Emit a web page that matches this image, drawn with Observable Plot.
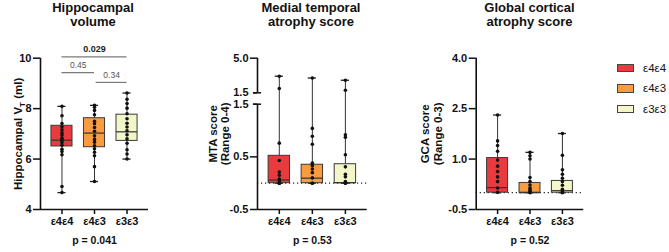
<!DOCTYPE html>
<html><head><meta charset="utf-8">
<script src="https://cdn.jsdelivr.net/npm/d3@7"></script>
<script src="https://cdn.jsdelivr.net/npm/@observablehq/plot@0.6"></script>
<style>
body{margin:0;background:#fff;}
#chart{position:relative;width:669px;height:252px;font-family:"Liberation Sans",Arial,sans-serif;color:#111;overflow:hidden;}
.title{position:absolute;top:1px;font-weight:bold;font-size:13px;line-height:14px;text-align:center;width:170px;transform:translateX(-50%);}
.legend{position:absolute;left:617px;top:57.5px;}
.item{display:flex;align-items:center;height:20.6px;font-size:11.5px;}
.sw{width:15px;height:6.5px;border:1px solid #444;margin-right:9px;}
</style></head><body><div id="chart"></div>
<script>
// ---- categories / styling ----
const genotypes = ["ε4ε4", "ε4ε3", "ε3ε3"];
const fills = ["#e93a3e", "#f89c3f", "#f3f6c8"];
const panelTitles = ["Hippocampal\nvolume", "Medial temporal\natrophy score", "Global cortical\natrophy score"];
const yLabels = ["Hippocampal VT (ml)", "MTA score\n(Range 0-4)", "GCA score\n(Range 0-3)"];
const pValues = ["p = 0.041", "p = 0.53", "p = 0.52"];

// ---- panel 1: hippocampal volume (ml) ----
const hippoE4E4 = [8.09, 7.72, 7.41, 7.28, 7.16, 7.04, 6.95, 6.83, 6.75, 6.66, 6.55, 6.39, 6.30, 6.17, 4.91, 4.67];
const hippoE4E3 = [8.13, 8.05, 7.93, 7.76, 7.50, 7.40, 7.25, 7.10, 6.92, 6.78, 6.67, 6.53, 6.41, 6.27, 6.13, 5.70, 5.11];
const hippoE3E3 = [8.62, 8.37, 8.20, 8.02, 7.80, 7.60, 7.42, 7.27, 7.12, 6.96, 6.80, 6.63, 6.37, 6.20, 6.00];
const hippoBoxes = [
  {min: 4.67, q1: 6.50, median: 6.75, q3: 7.32, max: 8.09},
  {min: 5.11, q1: 6.47, median: 7.03, q3: 7.62, max: 8.13},
  {min: 6.00, q1: 6.72, median: 7.08, q3: 7.76, max: 8.62}
];
const hippoTicks = [4, 6, 8, 10];
const hippoComparisons = [
  {from: 1, to: 3, level: 10.05, label: "0.029", bold: true},
  {from: 1, to: 2, level: 9.43, label: "0.45", bold: false},
  {from: 2.05, to: 3, level: 9.04, label: "0.34", bold: false}
];

// ---- panel 2: MTA score (broken axis: -0.5..1.5 | 1.5..5.0) ----
const mtaE4E4 = [3.18, 1.93, 0.76, 0.43, 0.21, 0.15, 0.08, 0.04, 0, 0, 0];
const mtaE4E3 = [3.00, 1.04, 0.89, 0.74, 0.38, 0.33, 0.27, 0.20, 0.10, 0, 0];
const mtaE3E3 = [2.77, 1.76, 0.92, 0.87, 0.54, 0.31, 0.17, 0.12, 0.03, 0, 0];
const mtaBoxes = [
  {min: 0, q1: 0, median: 0.06, q3: 0.52, max: 3.18},
  {min: 0, q1: 0, median: 0.095, q3: 0.35, max: 3.00},
  {min: 0, q1: 0, median: 0.01, q3: 0.36, max: 2.77}
];
const mtaLowerTicks = [-0.5, 0.5, 1.5];
const mtaUpperTicks = [1.5, 5.0];

// ---- panel 3: GCA score ----
const gcaE4E4 = [2.31, 1.54, 1.40, 1.23, 0.97, 0.79, 0.63, 0.47, 0.33, 0.14, 0.01];
const gcaE4E3 = [1.20, 1.10, 1.00, 0.45, 0.33, 0.23, 0.14, 0.09, 0.04, 0];
const gcaE3E3 = [1.76, 1.11, 0.68, 0.55, 0.43, 0.33, 0.22, 0.10, 0.03, 0];
const gcaBoxes = [
  {min: 0, q1: 0, median: 0.15, q3: 1.03, max: 2.31},
  {min: 0, q1: 0, median: 0.0, q3: 0.29, max: 1.20},
  {min: 0, q1: 0, median: 0.06, q3: 0.35, max: 1.76}
];
const gcaTicks = [-0.5, 1.0, 2.5, 4.0];

// ---- drawing ----
const X0 = 0.34, X1 = 3.66, HALF = 0.324, CAP = 0.125;
const FONT = '"Liberation Sans", Arial, sans-serif';
const chart = document.getElementById("chart");
const ident = v => v;

// broken-axis transform for MTA: lower part linear, small gap, compressed upper part
const BREAK = 1.5, GAP = 0.2165, K = 0.1878;
const upperPos = v => BREAK + GAP + (v - BREAK) * K;
const mtaPos = v => (v <= BREAK ? v : upperPos(v));
const mtaLabel = d => (d > BREAK + GAP / 2 ? BREAK + (d - BREAK - GAP) / K : d).toFixed(1);

function makePanel(cfg) {
  const P = cfg.pos || ident;
  const rows = cfg.groups.flatMap((vals, i) => vals.map(v => ({x: i + 1, v: P(v)})));
  const boxes = cfg.boxes.map((b, i) => ({x: i + 1, min: P(b.min), q1: P(b.q1), median: P(b.median), q3: P(b.q3), max: P(b.max), fill: fills[i]}));
  const marks = [];
  if (cfg.zero) marks.push(Plot.ruleY([P(0)], {x1: X0, x2: X1, stroke: "#222", strokeWidth: 1.2, strokeDasharray: "1.2,2.8"}));
  marks.push(
    Plot.ruleX(boxes, {x: "x", y1: "min", y2: "max", stroke: "#333", strokeWidth: 1}),
    Plot.ruleY(boxes, {y: "max", x1: d => d.x - CAP, x2: d => d.x + CAP, stroke: "#222", strokeWidth: 1.3}),
    Plot.ruleY(boxes, {y: "min", x1: d => d.x - CAP, x2: d => d.x + CAP, stroke: "#222", strokeWidth: 1.3}),
    Plot.rect(boxes, {x1: d => d.x - HALF, x2: d => d.x + HALF, y1: "q1", y2: "q3", fill: "fill", stroke: "#3a3a3a", strokeWidth: 1}),
    Plot.ruleY(boxes, {y: "median", x1: d => d.x - HALF, x2: d => d.x + HALF, stroke: "#333", strokeWidth: 1.2}),
    Plot.dot(rows, {x: "x", y: "v", r: 1.8, fill: "#111", stroke: null}),
    Plot.ruleX(cfg.axisSegs, {x: X0, y1: d => d[0], y2: d => d[1], stroke: "#111", strokeWidth: 1.6}),
    Plot.ruleY([cfg.yDomain[0]], {x1: X0, x2: X1, stroke: "#111", strokeWidth: 1.6}),
    Plot.axisX({ticks: [1, 2, 3], tickFormat: d => genotypes[d - 1], tickSize: 5, tickPadding: 3, fontSize: 11, strokeWidth: 1.5, stroke: "#111", label: null}),
    Plot.text([cfg.ylabel], {text: d => d, frameAnchor: "left", textAnchor: "middle", lineAnchor: "middle", dx: cfg.labelDx, rotate: -90, fontSize: 11.5, lineHeight: 1.08, fontWeight: "bold"}),
    Plot.text([cfg.p], {text: d => d, frameAnchor: "bottom", textAnchor: "middle", lineAnchor: "middle", dy: 31, fontSize: 10.5, fontWeight: "bold"})
  );
  for (const t of cfg.tickSets) {
    marks.push(Plot.axisY({ticks: t.ticks, tickFormat: cfg.fmt, tickSize: t.size, tickPadding: t.pad, fontSize: 11, strokeWidth: 1.5, stroke: "#111", label: null}));
  }
  if (cfg.extra) marks.push(...cfg.extra);
  const svg = Plot.plot({
    width: cfg.width, height: 252,
    marginLeft: cfg.marginLeft, marginRight: cfg.marginRight, marginTop: 57.7, marginBottom: 43,
    x: {domain: [X0, X1], axis: null},
    y: {domain: cfg.yDomain, axis: null},
    color: {type: "identity"},
    style: {fontFamily: FONT, fontWeight: "bold", fontSize: "11px", color: "#111", background: "transparent", overflow: "visible",
            position: "absolute", left: cfg.left + "px", top: "0px"},
    marks
  });
  chart.appendChild(svg);
  return svg;
}

// panel 1
const svg1 = makePanel({
  left: 0, width: 160, marginLeft: 40, marginRight: 12,
  groups: [hippoE4E4, hippoE4E3, hippoE3E3], boxes: hippoBoxes,
  yDomain: [4, 10], axisSegs: [[4, 10]], fmt: d => String(d),
  tickSets: [{ticks: hippoTicks, size: 7, pad: 2}],
  ylabel: yLabels[0], labelDx: -22, p: pValues[0], zero: false,
  extra: [
    Plot.ruleY(hippoComparisons, {y: "level", x1: "from", x2: "to", stroke: "#7a7a7a", strokeWidth: 1.2}),
    Plot.text(hippoComparisons.filter(d => d.bold), {x: d => (d.from + d.to) / 2, y: "level", dy: -7.5, text: "label", fontSize: 9, fontWeight: "bold", fill: "#222"}),
    Plot.text(hippoComparisons.filter(d => !d.bold), {x: d => (d.from + d.to) / 2, y: "level", dy: -7.5, text: "label", fontSize: 8.5, fontWeight: "normal", fill: "#555"})
  ]
});

// panel 2
const lowTicks = mtaLowerTicks.map(ident);
const upTicks = mtaUpperTicks.map(upperPos);
makePanel({
  left: 200, width: 180, marginLeft: 57, marginRight: 13.3,
  groups: [mtaE4E4, mtaE4E3, mtaE3E3], boxes: mtaBoxes, pos: mtaPos,
  yDomain: [-0.5, upperPos(5.0)],
  axisSegs: [[-0.5, BREAK], [upperPos(BREAK), upperPos(5.0)]], fmt: mtaLabel,
  tickSets: [{ticks: [lowTicks[0], lowTicks[1], upTicks[1]], size: 7, pad: 2}, {ticks: [lowTicks[2], upTicks[0]], size: 4, pad: 5}],
  ylabel: yLabels[1], labelDx: -38.5, p: pValues[1], zero: true,
  extra: [Plot.ruleY([lowTicks[2], upTicks[0]], {x1: X0 - CAP, x2: X0 + CAP, stroke: "#111", strokeWidth: 1.5})]
});

// panel 3
makePanel({
  left: 410, width: 190, marginLeft: 65.7, marginRight: 16.7,
  groups: [gcaE4E4, gcaE4E3, gcaE3E3], boxes: gcaBoxes,
  yDomain: [-0.5, 4.0], axisSegs: [[-0.5, 4.0]], fmt: d => d.toFixed(1),
  tickSets: [{ticks: gcaTicks, size: 7, pad: 2}],
  ylabel: yLabels[2], labelDx: -44.5, p: pValues[2], zero: true
});

// subscript T in "VT"
for (const t of svg1.querySelectorAll("text")) {
  if (t.textContent === "Hippocampal VT (ml)") {
    t.textContent = "";
    const ns = "http://www.w3.org/2000/svg";
    const a = document.createElementNS(ns, "tspan"); a.textContent = "Hippocampal V";
    const b = document.createElementNS(ns, "tspan"); b.textContent = "T"; b.setAttribute("dy", "3"); b.setAttribute("font-size", "8");
    const c = document.createElementNS(ns, "tspan"); c.textContent = " (ml)"; c.setAttribute("dy", "-3");
    t.append(a, b, c);
  }
}

// titles
const titleX = [93, 311, 529.5];
panelTitles.forEach((s, i) => {
  const d = document.createElement("div");
  d.className = "title";
  d.style.left = titleX[i] + "px";
  d.innerHTML = s.split("\n").join("<br>");
  chart.appendChild(d);
});

// legend
const lg = document.createElement("div");
lg.className = "legend";
genotypes.forEach((g, i) => {
  const it = document.createElement("div"); it.className = "item";
  const sw = document.createElement("span"); sw.className = "sw"; sw.style.background = fills[i];
  const lb = document.createElement("span"); lb.textContent = g;
  it.append(sw, lb); lg.appendChild(it);
});
chart.appendChild(lg);
</script></body></html>
